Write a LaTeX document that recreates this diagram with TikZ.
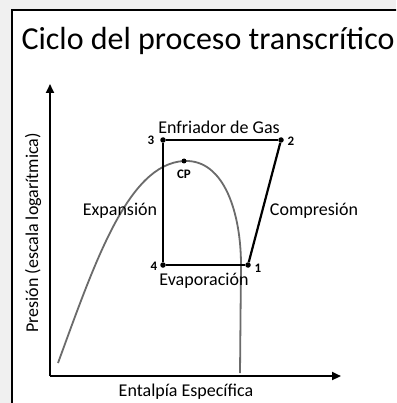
\documentclass[tikz,border=0pt]{standalone}
\usepackage{fontspec}
\setmainfont{Carlito}
\usetikzlibrary{arrows.meta}

\begin{document}
\begin{tikzpicture}[x=1pt, y=-1pt,
	pt/.style={shape=circle, fill=black, inner sep=0pt, minimum size=5.5pt},
	num/.style={font=\fontsize{13}{13}\selectfont\bfseries},
	lbl/.style={font=\fontsize{18}{18}\selectfont, anchor=base},
	cycle/.style={line width=2.2pt},
	axis/.style={line width=2.2pt, -{Triangle[length=9pt, width=8pt]}}]
	\useasboundingbox (0,0) rectangle (396,403);
	\clip (0,0) rectangle (396,403);
	\fill[black!6] (0,0) rectangle (396,403);
	\draw[fill=white, line width=1.6pt] (12,10) rectangle (410,420);

	\node[anchor=base west, font=\fontsize{32}{32}\selectfont] (title) at (18,50) {Ciclo del proceso transcrítico};

	% axes
	\coordinate (O) at (50,376);
	\coordinate (Ytip) at (50,84);
	\coordinate (Xtip) at (341,376);
	\draw[axis] (O) -- (Ytip);
	\draw[axis] (O) -- (Xtip);
	\node[lbl, rotate=90] (ylab) at (38,233) {Presión (escala logarítmica)};
	\node[lbl] (xlab) at (186,396) {Entalpía Específica};

	% saturation dome
	\coordinate (C) at (184,161);
	\coordinate (D0) at (58,363);
	\coordinate (D1) at (241,265);
	\coordinate (D2) at (240,373);
	\draw[line width=1.8pt, black!58] (D0) .. controls (95,262) and (128,164) .. (C)
		.. controls (225,159) and (241,215) .. (D1) -- (D2);
	\node[pt, minimum size=5pt] (CP) at (C) {};
	\node[num] (cpl) at (184,174) {CP};

	% cycle points
	\node[pt] (P1) at (248,265) {};
	\node[pt] (P2) at (281,140) {};
	\node[pt] (P3) at (163,140) {};
	\node[pt] (P4) at (163,265) {};

	\node[num] (n1) at (258,268) {1};
	\node[num] (n2) at (291,141) {2};
	\node[num] (n3) at (151,140) {3};
	\node[num] (n4) at (154,266) {4};

	\path[cycle] (P1) edge (P2);
	\path[cycle] (P2) edge (P3);
	\path[cycle] (P3) edge (P4);
	\path[cycle] (P4) edge (P1);

	\node[lbl] (gas) at (219,134) {Enfriador de Gas};
	\node[lbl] (evap) at (204,285) {Evaporación};
	\node[lbl] (exp) at (120,215) {Expansión};
	\node[lbl] (comp) at (314,215) {Compresión};

\end{tikzpicture}
\end{document}
